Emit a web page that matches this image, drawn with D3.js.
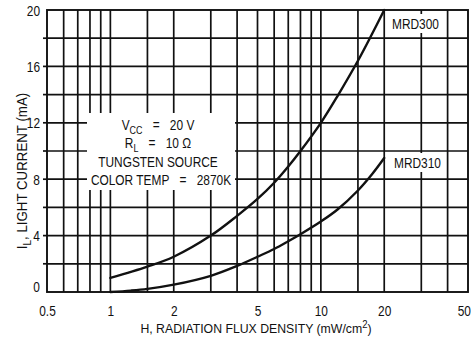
<!DOCTYPE html>
<html>
<head>
<meta charset="utf-8">
<script src="https://cdn.jsdelivr.net/npm/d3@7"></script>
<style>
  html, body { margin: 0; padding: 0; background: #fff; }
  svg { display: block; }
  text { font-family: "Liberation Sans", Arial, sans-serif; fill: #111; }
</style>
</head>
<body>
<svg id="chart" width="471" height="340"></svg>
<script>
// Light current (mA) versus radiation flux density (mW/cm^2)
const mrd300H = [1, 1.5, 2, 3, 4, 5, 6, 7, 8, 10, 12, 15, 17.5, 20];
const mrd300I = [1.0, 1.8, 2.5, 4.0, 5.4, 6.6, 7.75, 8.9, 10.0, 12.0, 13.9, 16.4, 18.3, 20.0];
const mrd310H = [1, 1.25, 1.5, 2, 3, 4, 5, 6, 7, 8, 10, 12, 15, 17.5, 20];
const mrd310I = [0.0, 0.1, 0.22, 0.52, 1.15, 1.85, 2.5, 3.05, 3.6, 4.1, 5.0, 5.85, 7.2, 8.35, 9.5];

const xGrid = [0.6, 0.7, 0.8, 0.9, 1, 1.5, 2, 3, 4, 5, 6, 7, 8, 9, 10, 15, 20, 30, 40];
const yGrid = [2, 4, 6, 8, 10, 12, 14, 16, 18];
const xTickLabels = [0.5, 1, 2, 5, 10, 20, 50];
const yTickLabels = [0, 4, 8, 12, 16, 20];
const yTickMarks = [2, 4, 6, 8, 10, 12, 14, 16, 18];

const seriesNames = ["MRD300", "MRD310"];

const svg = d3.select("#chart");
const x = d3.scaleLog().domain([0.5, 50]).range([47, 468]);
const y = d3.scaleLinear().domain([0, 20]).range([292, 10]);

const ink = "#111";
const FS = 14;      // font size
const SX = 0.85;    // horizontal squeeze for the condensed lettering

// text helper: a squeezed label anchored at (px, py)
function label(parent, px, py, anchor, sx = SX, fs = FS) {
  return parent.append("g")
    .attr("transform", `translate(${px},${py}) scale(${sx},1)`)
    .append("text")
    .attr("text-anchor", anchor)
    .attr("font-size", fs);
}

// grid
const grid = svg.append("g").attr("stroke", ink).attr("stroke-width", 1.7);
grid.selectAll("line.v").data(xGrid).join("line")
  .attr("class", "v")
  .attr("x1", d => x(d)).attr("x2", d => x(d))
  .attr("y1", y(0)).attr("y2", y(20));
grid.selectAll("line.h").data(yGrid).join("line")
  .attr("class", "h")
  .attr("x1", x(0.5)).attr("x2", x(50))
  .attr("y1", d => y(d)).attr("y2", d => y(d));
grid.selectAll("line.t").data(yTickMarks).join("line")
  .attr("class", "t")
  .attr("x1", x(0.5) - 4).attr("x2", x(0.5))
  .attr("y1", d => y(d)).attr("y2", d => y(d));

// frame
svg.append("rect")
  .attr("x", x(0.5)).attr("y", y(20))
  .attr("width", x(50) - x(0.5)).attr("height", y(0) - y(20))
  .attr("fill", "none").attr("stroke", ink).attr("stroke-width", 1.9);

// response curves
const line = d3.line()
  .x(d => x(d[0])).y(d => y(d[1]))
  .curve(d3.curveCatmullRom.alpha(0.5));
const series = [d3.zip(mrd300H, mrd300I), d3.zip(mrd310H, mrd310I)];
svg.append("g").selectAll("path").data(series).join("path")
  .attr("d", line)
  .attr("fill", "none").attr("stroke", ink).attr("stroke-width", 2.4)
  .attr("stroke-linecap", "round");

// test conditions panel
const boxX = 87, boxY = 113, boxW = 148, boxH = 77;
svg.append("rect")
  .attr("x", boxX).attr("y", boxY).attr("width", boxW).attr("height", boxH)
  .attr("fill", "#fff");
const cx = 158;
const gap = 12;   // room around the equals signs
{
  const t = label(svg, cx, 130, "middle");
  t.append("tspan").text("V");
  t.append("tspan").text("CC").attr("font-size", 10.5).attr("dy", 3.5);
  t.append("tspan").text("=").attr("dy", -3.5).attr("dx", gap);
  t.append("tspan").text("20 V").attr("dx", gap);
}
{
  const t = label(svg, cx, 148, "middle");
  t.append("tspan").text("R");
  t.append("tspan").text("L").attr("font-size", 10.5).attr("dy", 3.5);
  t.append("tspan").text("=").attr("dy", -3.5).attr("dx", gap);
  t.append("tspan").text("10 Ω").attr("dx", gap);
}
label(svg, cx, 167, "middle").text("TUNGSTEN SOURCE");
{
  const t = label(svg, 161, 185, "middle");
  t.append("tspan").text("COLOR TEMP");
  t.append("tspan").text("=").attr("dx", gap);
  t.append("tspan").text("2870K").attr("dx", gap);
}

// series labels
const labelAt = [[392, 29], [394, 168]];
seriesNames.forEach((n, i) => {
  const [lx, ly] = labelAt[i];
  svg.append("rect")
    .attr("x", lx - 4).attr("y", ly - 15).attr("width", 52).attr("height", 19)
    .attr("fill", "#fff");
  label(svg, lx, ly, "start").text(n);
});

// x axis labels
const xAxis = d3.axisBottom(x)
  .tickValues(xTickLabels)
  .tickFormat(d => String(d))
  .tickSize(0).tickPadding(0);
const gx = svg.append("g").attr("transform", `translate(0,${y(0) + 24})`).call(xAxis);
gx.attr("font-family", null).attr("font-size", null);
gx.select(".domain").remove();
gx.selectAll("text")
  .attr("font-size", FS).attr("dy", 0).attr("y", 0).attr("fill", ink)
  .attr("x", d => d === 50 ? -5 : 0)
  .attr("transform", `scale(${SX},1)`);

// y axis labels
const yAxis = d3.axisLeft(y)
  .tickValues(yTickLabels)
  .tickSize(0).tickPadding(0);
const gy = svg.append("g").attr("transform", `translate(40,0)`).call(yAxis);
gy.attr("font-family", null).attr("font-size", null);
gy.select(".domain").remove();
gy.selectAll("text")
  .attr("font-size", FS).attr("fill", ink).attr("x", 0)
  .attr("dy", d => d === 0 ? "-0.05em" : "0.36em")
  .attr("transform", `scale(${SX},1)`);

// axis titles
{
  const t = label(svg, 256, 333, "middle", 0.91, 13.5);
  t.append("tspan").text("H, RADIATION FLUX DENSITY (mW/cm");
  t.append("tspan").text("2").attr("font-size", 10.5).attr("dy", -5.5);
  t.append("tspan").text(")").attr("dy", 5.5);
}
{
  const g = svg.append("g").attr("transform", "translate(27,171) rotate(-90) scale(0.95,1)");
  const t = g.append("text").attr("text-anchor", "middle").attr("font-size", FS);
  t.append("tspan").text("I");
  t.append("tspan").text("L").attr("font-size", 10.5).attr("dy", 3.5);
  t.append("tspan").text(", LIGHT CURRENT (mA)").attr("dy", -3.5);
}
</script>
</body>
</html>
